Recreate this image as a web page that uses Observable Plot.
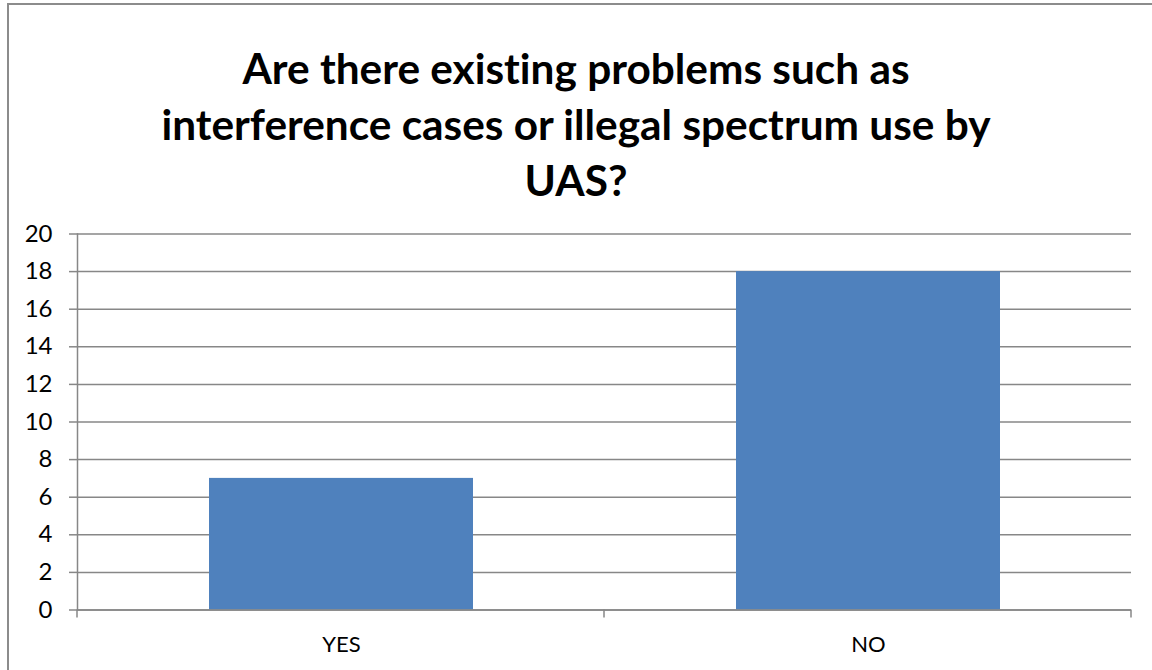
<!DOCTYPE html>
<html>
<head>
<meta charset="utf-8">
<script src="https://cdn.jsdelivr.net/npm/d3@7"></script>
<script src="https://cdn.jsdelivr.net/npm/@observablehq/plot@0.6"></script>
<style>
  html, body { margin: 0; padding: 0; background: #fff; }
  #wrap { position: relative; width: 1152px; height: 670px; overflow: hidden; background: #fff; }
  #border { position: absolute; left: 7px; top: 3px; width: 1200px; height: 720px; border: 2px solid #8c8c8c; box-sizing: border-box; pointer-events: none; }
  #title { position: absolute; left: 0; top: 0; width: 1152px; height: 200px; text-align: center; font-family: Lato, "Open Sans", sans-serif; font-weight: bold; color: #000; white-space: nowrap; font-variant-ligatures: none; font-feature-settings: "liga" 0; }
  #chart { position: absolute; left: 0; top: 200px; }
</style>
</head>
<body>
<div id="wrap">
  <div id="title"></div>
  <div id="chart"></div>
  <div id="border"></div>
</div>
<script>
// ---- data ----
const titleLines = [
  "Are there existing problems such as",
  "interference cases or illegal spectrum use by",
  "UAS?"
];
const categories = ["YES", "NO"];
const counts = [7, 18];
const yTicks = [0, 2, 4, 6, 8, 10, 12, 14, 16, 18, 20];

const data = categories.map((c, i) => ({category: c, count: counts[i]}));

// ---- title: fit font size to reference line width ----
const ctx = document.createElement("canvas").getContext("2d");
ctx.font = "bold 100px Lato";
const w2 = ctx.measureText(titleLines[1]).width;
const titleSize = 100 * 830 / w2;
const lineH = 56;
const title = document.getElementById("title");
title.style.fontSize = titleSize + "px";
title.style.lineHeight = lineH + "px";
const baselineInLine = (lineH - 1.2 * titleSize) / 2 + 0.987 * titleSize;
title.style.paddingTop = (84 - baselineInLine) + "px";
title.innerHTML = titleLines.map(t => t.replace(/&/g, "&amp;")).join("<br>");

// ---- boundary ticks under x axis ----
const gray = "#878787";
function xBoundaryTicks(index, scales, values, dims) {
  const x = scales.x;
  const [r0, r1] = x.range();
  const n = x.domain().length;
  const y0 = dims.height - dims.marginBottom;
  const g = d3.create("svg:g");
  for (let i = 0; i <= n; i++) {
    const px = r0 + i * (r1 - r0) / n;
    g.append("line")
      .attr("x1", px).attr("x2", px)
      .attr("y1", y0).attr("y2", y0 + 8)
      .attr("stroke", gray).attr("stroke-width", 1.5);
  }
  return g.node();
}

const chart = Plot.plot({
  width: 1152,
  height: 470,
  marginTop: 33.5,
  marginBottom: 60.5,
  marginLeft: 77,
  marginRight: 21,
  style: {fontFamily: "Lato, 'Open Sans', sans-serif", fontSize: "23px", color: "#000", background: "transparent"},
  x: {domain: categories, paddingInner: 0.5, paddingOuter: 0.25, label: null},
  y: {domain: [0, 20], label: null},
  marks: [
    Plot.gridY(yTicks, {stroke: gray, strokeOpacity: 1, strokeWidth: 1.5}),
    Plot.barY(data, {x: "category", y: "count", fill: "#4F81BD"}),
    Plot.frame({anchor: "left", stroke: gray, strokeWidth: 1.5}),
    Plot.ruleY([0], {stroke: gray, strokeWidth: 1.5}),
    Plot.axisY({ticks: yTicks, tickSize: 8, tickPadding: 17, stroke: gray, strokeWidth: 1.5, strokeOpacity: 1, fontSize: 24, label: null}),
    Plot.axisX({tickSize: 0, tickPadding: 26, fontSize: 22, label: null}),
    xBoundaryTicks
  ]
});
document.getElementById("chart").appendChild(chart);
</script>
</body>
</html>
